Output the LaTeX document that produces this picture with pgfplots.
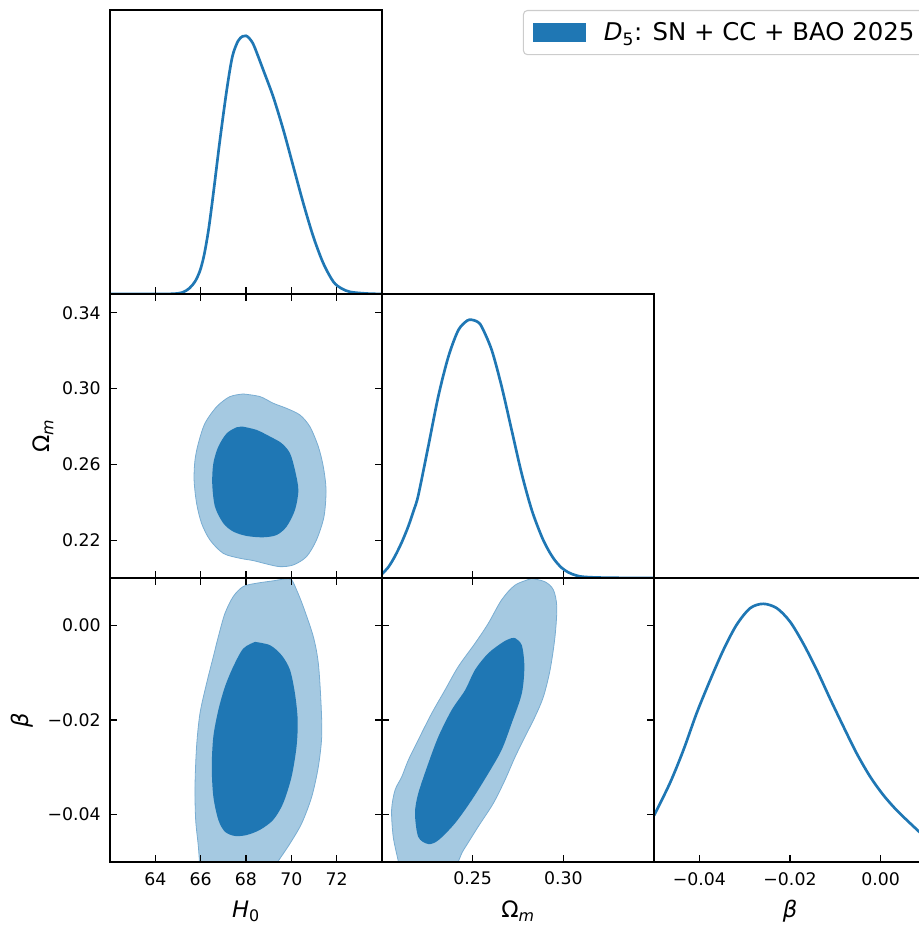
\documentclass[border=0pt]{standalone}
\usepackage{fontspec}
\setmainfont{DejaVu Sans}
\usepackage{pgfplots}
\pgfplotsset{compat=1.18}
\definecolor{tabblue}{HTML}{1F77B4}

\pgfplotsset{
  panel/.style={scale only axis, width=204pt, height=213pt, anchor=south west,
    axis line style={line width=0.8pt}, tick style={black, line width=0.8pt},
    tick align=inside, major tick length=5pt, axis on top, scaled ticks=false,
    ticklabel style={font=\fontsize{13}{15}\selectfont},
    label style={font=\fontsize{17}{20}\selectfont},
    xticklabel style={anchor=base, inner sep=0pt, yshift=-17.25pt},
    yticklabel style={anchor=east, inner sep=0pt, xshift=-6.75pt}},
  oned/.style={panel, ymin=0, ymax=1.1, ytick=\empty, xtick pos=left},
  hax/.style={xmin=62, xmax=74, xtick={64,66,68,70,72}},
  omx/.style={xmin=0.20, xmax=0.35, xtick={0.25,0.30}},
  omy/.style={ymin=0.20, ymax=0.35, ytick={0.22,0.26,0.30,0.34}},
  bx/.style={xmin=-0.05, xmax=0.01, xtick={-0.04,-0.02,0.00}},
  by/.style={ymin=-0.05, ymax=0.01, ytick={-0.04,-0.02,0.00}},
  nox/.style={xticklabels=\empty},
  noy/.style={yticklabels=\empty},
  botlabel/.style={xlabel style={at={(axis description cs:0.5,-0.197)}, anchor=base}},
  curve/.style={tabblue, line width=2pt, smooth, tension=0.5, forget plot},
  outer/.style={fill=tabblue!40, draw=tabblue!60, line width=0.6pt, smooth, tension=0.5},
  inner/.style={fill=tabblue, draw=none, smooth, tension=0.5},
}

\begin{document}
\begin{tikzpicture}

% H0 marginal
\begin{axis}[oned, hax, nox, at={(82.5pt,473.25pt)},
    legend style={at={(1.518,1)}, anchor=north west, draw=black!20,
      rounded corners=3pt, line width=0.8pt, inner xsep=7pt, inner ysep=7pt,
      font=\fontsize{18.3}{21}\selectfont, column sep=11.5pt}]
  \addplot[curve] coordinates {
    (62,0) (64,0) (64.8,0.001) (65.2,0.006) (65.5,0.022) (65.75,0.048)
    (65.97,0.09) (66.15,0.15) (66.35,0.25) (66.56,0.39) (66.85,0.596)
    (67.15,0.79) (67.4,0.92) (67.65,0.98) (67.85,0.998) (68.0,1.0)
    (68.15,0.99) (68.35,0.962) (68.76,0.868) (69.2,0.764) (69.65,0.635)
    (70.09,0.493) (70.53,0.351) (70.97,0.222) (71.41,0.119) (71.85,0.048)
    (72.2,0.022) (72.6,0.008) (73.3,0.002) (74,0)
  };
  \addlegendimage{legend image code/.code={\fill[tabblue, sharp corners] (0pt,-7pt) rectangle (39pt,7pt);}}
  \addlegendentry{\textit{D}\textsubscript{5}: SN + CC + BAO 2025\hspace{12pt}}
\end{axis}

% Omega_m vs H0
\begin{axis}[panel, hax, omy, nox, at={(82.5pt,260.25pt)},
    yticklabels={0.22,0.26,0.30,0.34},
    ylabel={Ω\textsubscript{\textit{m}}},
    ylabel style={at={(axis description cs:-0.2206,0.5)}, anchor=base}]
  \addplot[outer] coordinates {
    (67.88,0.2972) (68.62,0.2958) (69.20,0.2923) (69.79,0.2896) (70.38,0.2861)
    (70.82,0.2799) (71.19,0.2694) (71.41,0.2588) (71.53,0.2465) (71.44,0.2324)
    (71.11,0.2201) (70.67,0.2113) (70.09,0.2069) (69.50,0.2060) (68.91,0.2074)
    (68.32,0.2092) (67.74,0.2104) (67.00,0.2130) (66.41,0.2201) (66.04,0.2289)
    (65.82,0.2395) (65.71,0.2518) (65.75,0.2623) (65.90,0.2712) (66.19,0.2817)
    (66.71,0.2905) (67.29,0.2958) (67.88,0.2972)
  } -- cycle;
  \addplot[inner] coordinates {
    (67.88,0.2799) (68.47,0.2782) (69.06,0.2747) (69.57,0.2712) (69.94,0.2659)
    (70.16,0.2570) (70.31,0.2465) (70.16,0.2359) (69.79,0.2271) (69.35,0.2227)
    (68.76,0.2215) (68.03,0.2222) (67.44,0.2245) (67.00,0.2289) (66.63,0.2377)
    (66.51,0.2500) (66.56,0.2606) (66.78,0.2694) (67.15,0.2764) (67.59,0.2796)
    (67.88,0.2799)
  } -- cycle;
\end{axis}

% Omega_m marginal
\begin{axis}[oned, omx, nox, at={(286.5pt,260.25pt)}]
  \addplot[curve] coordinates {
    (0.200,0.016) (0.2035,0.042) (0.2072,0.085) (0.2110,0.140) (0.2145,0.200)
    (0.2175,0.262) (0.2200,0.320) (0.2255,0.509) (0.2310,0.702) (0.2366,0.857)
    (0.2421,0.960) (0.2470,0.997) (0.2495,1.000) (0.2525,0.993) (0.2550,0.973)
    (0.2605,0.883) (0.2660,0.741) (0.2715,0.573) (0.2770,0.405) (0.2826,0.263)
    (0.2881,0.160) (0.2920,0.105) (0.2954,0.068) (0.2990,0.040) (0.3027,0.022)
    (0.3070,0.010) (0.3120,0.004) (0.3250,0.001) (0.3500,0)
  };
\end{axis}

% beta vs H0
\begin{axis}[panel, hax, by, botlabel, at={(82.5pt,47.25pt)},
    xticklabels={64,66,68,70,72}, yticklabels={−0.04,−0.02,0.00},
    xlabel={\textit{H}\textsubscript{0}}, ylabel={\textit{β}},
    ylabel style={at={(axis description cs:-0.298,0.5)}, anchor=base}]
  \addplot[outer] coordinates {
    (65.97,-0.0517) (65.90,-0.0468) (65.78,-0.0411) (65.75,-0.0341) (65.82,-0.0256)
    (65.97,-0.0186) (66.26,-0.0123) (66.56,-0.0066) (66.78,-0.0024) (67.07,0.0025)
    (67.44,0.0061) (67.88,0.0082) (68.47,0.0089) (69.20,0.0094) (69.72,0.0098)
    (70.01,0.0096) (70.23,0.0075) (70.53,0.0039) (70.97,-0.0024) (71.19,-0.0080)
    (71.31,-0.0165) (71.34,-0.0235) (71.19,-0.0299) (70.90,-0.0362) (70.46,-0.0418)
    (69.94,-0.0461) (69.35,-0.0503) (69.06,-0.0524) (65.97,-0.0524) (65.97,-0.0517)
  } -- cycle;
  \addplot[inner] coordinates {
    (68.40,-0.0035) (69.06,-0.0042) (69.57,-0.0063) (69.94,-0.0094) (70.16,-0.0144)
    (70.28,-0.0200) (70.23,-0.0256) (70.01,-0.0320) (69.64,-0.0376) (69.20,-0.0411)
    (68.62,-0.0432) (68.03,-0.0443) (67.51,-0.0445) (67.07,-0.0436) (66.78,-0.0411)
    (66.56,-0.0362) (66.49,-0.0299) (66.56,-0.0235) (66.78,-0.0179) (67.07,-0.0130)
    (67.44,-0.0087) (67.88,-0.0049) (68.40,-0.0035)
  } -- cycle;
\end{axis}

% beta vs Omega_m
\begin{axis}[panel, omx, by, noy, botlabel, at={(286.5pt,47.25pt)},
    xticklabels={0.25,0.30}, xlabel={Ω\textsubscript{\textit{m}}}]
  \addplot[outer] coordinates {
    (0.2826,0.0099) (0.2899,0.0092) (0.2945,0.0075) (0.2964,0.0039) (0.2954,-0.0024)
    (0.2927,-0.0094) (0.2890,-0.0151) (0.2844,-0.0193) (0.2789,-0.0235) (0.2734,-0.0278)
    (0.2678,-0.0327) (0.2614,-0.0376) (0.2531,-0.0425) (0.2449,-0.0475) (0.2366,-0.0524)
    (0.2099,-0.0524) (0.2090,-0.0499) (0.2062,-0.0447) (0.2053,-0.0390) (0.2072,-0.0348)
    (0.2109,-0.0320) (0.2145,-0.0285) (0.2200,-0.0242) (0.2274,-0.0186) (0.2347,-0.0137)
    (0.2421,-0.0087) (0.2513,-0.0038) (0.2586,0.0004) (0.2660,0.0054) (0.2734,0.0085)
    (0.2826,0.0099)
  } -- cycle;
  \addplot[inner] coordinates {
    (0.2734,-0.0027) (0.2771,-0.0042) (0.2785,-0.0087) (0.2771,-0.0144) (0.2715,-0.0207)
    (0.2660,-0.0263) (0.2586,-0.0313) (0.2495,-0.0369) (0.2403,-0.0418) (0.2311,-0.0454)
    (0.2255,-0.0462) (0.2200,-0.0447) (0.2182,-0.0397) (0.2200,-0.0355) (0.2255,-0.0292)
    (0.2311,-0.0235) (0.2384,-0.0179) (0.2458,-0.0137) (0.2513,-0.0094) (0.2586,-0.0059)
    (0.2669,-0.0035) (0.2715,-0.0027) (0.2734,-0.0027)
  } -- cycle;
\end{axis}

% beta marginal
\begin{axis}[oned, bx, botlabel, at={(490.5pt,47.25pt)},
    xticklabels={−0.04,−0.02,0.00}, xlabel={\textit{β}}]
  \addplot[curve] coordinates {
    (-0.0500,0.180) (-0.0465,0.305) (-0.0435,0.434) (-0.0406,0.576) (-0.0376,0.705)
    (-0.0347,0.821) (-0.0318,0.918) (-0.0288,0.983) (-0.0259,1.000) (-0.0229,0.983)
    (-0.0200,0.931) (-0.0171,0.847) (-0.0141,0.744) (-0.0112,0.634) (-0.0082,0.524)
    (-0.0053,0.421) (-0.0023,0.330) (0.0006,0.259) (0.0035,0.201) (0.0065,0.150)
    (0.0085,0.117) (0.0100,0.092)
  };
\end{axis}

\pgfresetboundingbox
\useasboundingbox (0,0) rectangle (689.25pt,693.75pt);
\end{tikzpicture}
\end{document}
